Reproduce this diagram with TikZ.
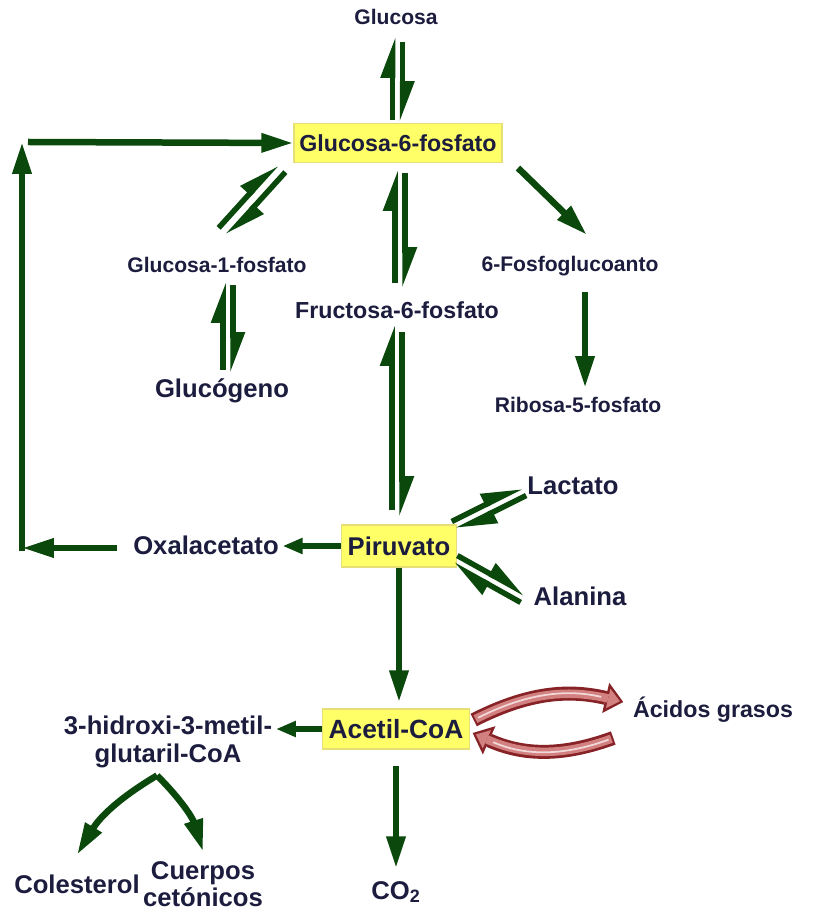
\documentclass[tikz,border=0pt]{standalone}
\usepackage{fontspec}
\setmainfont{Liberation Sans}
\usepackage{tikz}
\usetikzlibrary{arrows.meta,positioning}
\definecolor{leaf}{RGB}{10,72,12}
\definecolor{ink}{RGB}{28,28,62}
\definecolor{boxfill}{RGB}{255,255,104}
\definecolor{boxline}{RGB}{232,222,120}
\definecolor{wine}{RGB}{135,34,38}
\definecolor{rosy}{RGB}{210,128,128}

\tikzset{
  txs/.style={text=ink, inner sep=2pt, font=\fontsize{12}{14}\selectfont\bfseries},
  txm/.style={text=ink, inner sep=2pt, font=\fontsize{13.2}{16}\selectfont\bfseries},
  txl/.style={text=ink, inner sep=2pt, align=center, font=\fontsize{14.6}{15.5}\selectfont\bfseries},
  hilite/.style={fill=boxfill, draw=boxline, line width=0.8pt},
  flow/.style={draw=leaf, line width=0.13cm, -{Triangle[length=0.64cm,width=0.36cm]}},
  nudge/.style={draw=leaf, line width=0.12cm, -{Triangle[length=0.4cm,width=0.3cm]}},
  rev/.style={draw=leaf, line width=0.11cm, -{Triangle[harpoon,length=0.66cm,width=0.46cm]}},
  fat/.style={draw=wine, line width=0.28cm, -{Triangle[length=0.36cm,width=0.62cm,line width=0pt]},
    postaction={draw=rosy, line width=0.17cm, shorten <=0.04cm, shorten >=0.07cm,
      -{Triangle[length=0.24cm,width=0.4cm,line width=0pt]}},
    postaction={draw=white!70!rosy, line width=0.035cm, shorten <=0.1cm, shorten >=0.45cm, -}}
}

\begin{document}
\begin{tikzpicture}[x=0.02cm, y=-0.02cm]
\useasboundingbox[fill=white] (0,0) rectangle (815,911);
%%%%% Nodes %%%%%
\node[txs] (glucosa) at (396,17) {Glucosa};
\node[txm, hilite, minimum width=4.16cm, minimum height=0.78cm] (g6p) at (398,143) {Glucosa-6-fosfato};
\node[txs] (g1p) at (217,265) {Glucosa-1-fosfato};
\node[txl] (glucogeno) at (222,391) {Glucógeno};
\node[txm] (f6p) at (397,310) {Fructosa-6-fosfato};
\node[txs] (fosfog) at (570,266) {6-Fosfoglucoanto};
\node[txs] (ribosa) at (578,405) {Ribosa-5-fosfato};
\node[txl, hilite, minimum width=2.3cm, minimum height=0.84cm] (piruvato) at (399,546) {Piruvato};
\node[txl] (lactato) at (573,486) {Lactato};
\node[txl] (alanina) at (580,596) {Alanina};
\node[txl] (oxal) at (206,545) {Oxalacetato};
\node[txl, hilite, font=\fontsize{15}{17}\selectfont\bfseries, minimum width=2.94cm, minimum height=0.8cm] (acetil) at (396,729) {Acetil-CoA};
\node[txl] (hmg) at (168,742) {3-hidroxi-3-metil-\\glutaril-CoA};
\node[txl] (colesterol) at (77,884) {Colesterol};
\node[txl] (cuerpos) at (203,884) {Cuerpos\\cetónicos};
\node[txl] (co2) at (396,892) {CO\textsubscript{2}};
\node[txm] (acidos) at (713,710) {Ácidos grasos};
\coordinate (loopB) at (22,548);
\coordinate (loopT) at (22,142);

%%%%% Reversible steps %%%%%
\foreach \from/\fs/\to/\ts in {
  g6p/{(-5.5,-23)}/glucosa/{(-3.5,20)}, glucosa/{(6.5,25)}/g6p/{(4.5,-21)},
  g1p/{(1.6,-37.1)}/g6p/{(-121.4,20.9)}, g6p/{(-112.6,29.1)}/g1p/{(10.4,-28.9)},
  glucogeno/{(1,-21)}/g1p/{(6,17)}, g1p/{(16,20)}/glucogeno/{(11,-18)},
  f6p/{(-2,-27)}/g6p/{(-3,27)}, g6p/{(7,30)}/f6p/{(8,-22)},
  piruvato/{(-7,-36)}/f6p/{(-5,15)}, f6p/{(5,22)}/piruvato/{(3,-29)},
  piruvato/{(52.8,-24.5)}/lactato/{(-51.2,0.5)}, lactato/{(-46.8,9.5)}/piruvato/{(57.2,-15.5)},
  piruvato/{(58.4,9.6)}/alanina/{(-54.6,-2.4)}, alanina/{(-59.4,6.4)}/piruvato/{(53.6,18.4)}}{
\draw[rev] ([shift={\fs}]\from.center) -- ([shift={\ts}]\to.center);
}

%%%%% One-way steps %%%%%
\draw[flow] ([shift={(120,25)}]g6p.center) -- ([shift={(17,-31)}]fosfog.center);
\draw[flow] ([shift={(15,26)}]fosfog.center) -- ([shift={(7,-17)}]ribosa.center);
\draw[nudge] (piruvato.west) -- (piruvato.west -| oxal.east);
\draw[flow, shorten <=0.24cm] (oxal.west |- loopB) -- (loopB);
\draw[flow] ([shift={(0,3)}]loopB) -- (loopT);
\draw[flow] ([shift={(6,0)}]loopT) -- (g6p.west);
\draw[flow, shorten >=0.12cm] (piruvato.south) -- (piruvato.south |- acetil.north);
\draw[nudge] (acetil.west) -- (acetil.west -| hmg.east);
\draw[flow, shorten <=0.32cm, shorten >=0.18cm] (acetil.south) -- (co2.north);
\draw[flow] ([shift={(-11,4)}]hmg.south) to[bend right=14] ([shift={(0,-16)}]colesterol.north);
\draw[flow] ([shift={(-11,4)}]hmg.south) to[bend left=14] ([shift={(0,-6)}]cuerpos.north);

%%%%% Fatty acids %%%%%
\draw[fat] ([shift={(3.5,-9)}]acetil.east) to[bend left=20] ([shift={(-6,-8)}]acidos.west);
\draw[fat] ([shift={(-16,28)}]acidos.west) to[bend left=22] ([shift={(2.5,4)}]acetil.east);
\end{tikzpicture}
\end{document}
